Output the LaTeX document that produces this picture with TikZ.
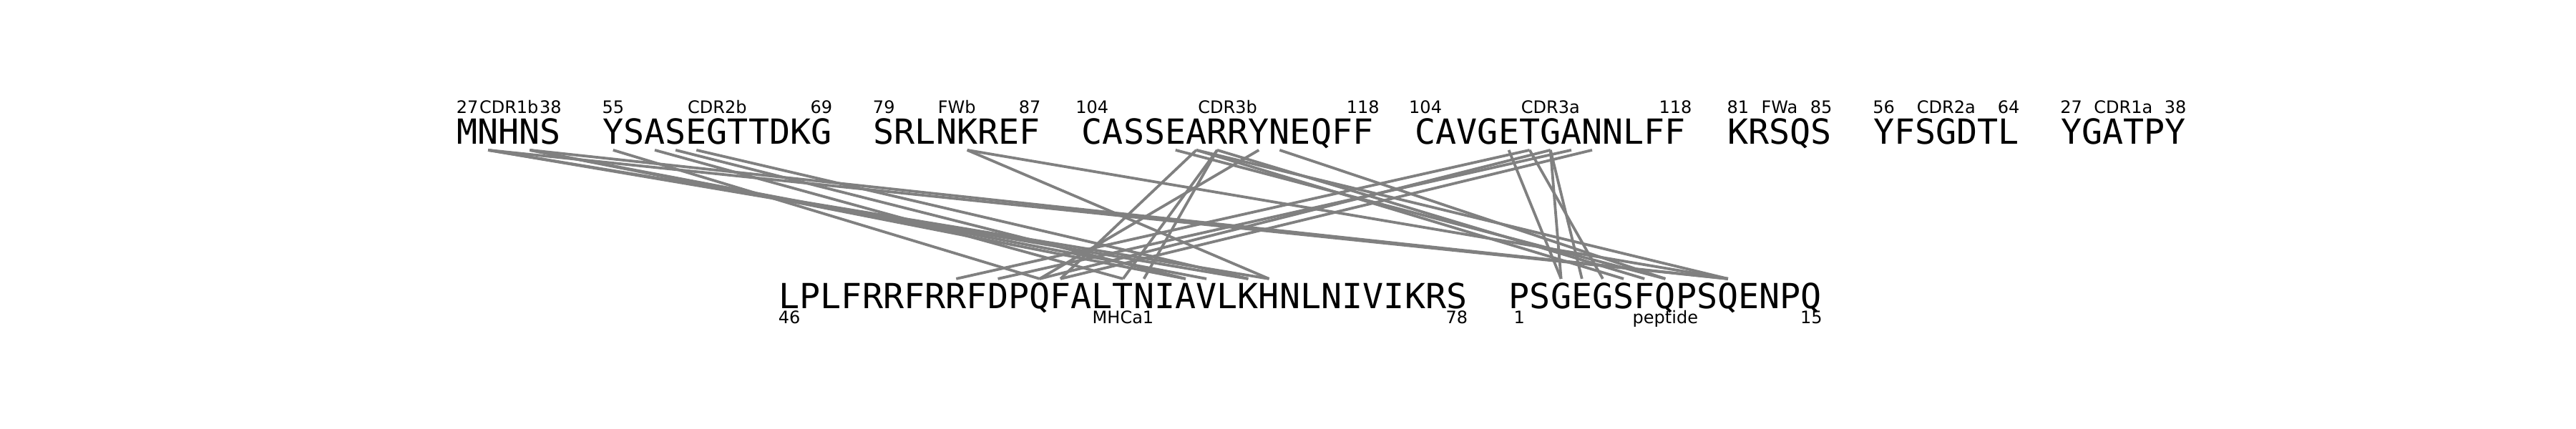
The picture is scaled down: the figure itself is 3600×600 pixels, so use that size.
\documentclass[tikz,border=0pt]{standalone}
\usepackage{fontspec}
\setmainfont{DejaVu Sans}
\newfontfamily\seqfont{DejaVu Sans Mono}
\definecolor{linkgray}{HTML}{808080}
\tikzset{
  res/.style={inner sep=0pt, outer sep=0pt, anchor=base, font=\seqfont\fontsize{12.08pt}{14pt}\selectfont},
  tres/.style={res, text height=9.25pt, text depth=2.1pt},
  bres/.style={res, text height=10.4pt, text depth=0pt},
  lab/.style={inner sep=0pt, anchor=base, font=\fontsize{6pt}{7pt}\selectfont},
  link/.style={draw=linkgray, line width=0.95pt},
}
\newcommand{\topseg}[2]{%
  \foreach \c [count=\i from #1] in {#2} {\node[tres] (t\i) at ({638.5+(\i+0.5)*29.11},201.5) {\c};}}
\newcommand{\botseg}[2]{%
  \foreach \c [count=\i from #1] in {#2} {\node[bres] (b\i) at ({1088.5+(\i+0.5)*29.15},431.5) {\c};}}
\newcommand{\seglabels}[9]{%
  \node[lab] (#1a) at ({#2+(#5+0.5)*#3},#4) {#7};
  \node[lab] (#1b) at ({#2+(#5+#6/2)*#3},#4) {#8};
  \node[lab] (#1c) at ({#2+(#5+#6-0.5)*#3},#4) {#9};}
\begin{document}
\begin{tikzpicture}[x=0.25pt,y=-0.25pt]
\fill[white] (0,0) rectangle (3600,600);
\useasboundingbox (0,0) rectangle (3600,600);
% top row (TCR)
\topseg{0}{M,N,H,N,S}
\topseg{7}{Y,S,A,S,E,G,T,T,D,K,G}
\topseg{20}{S,R,L,N,K,R,E,F}
\topseg{30}{C,A,S,S,E,A,R,R,Y,N,E,Q,F,F}
\topseg{46}{C,A,V,G,E,T,G,A,N,N,L,F,F}
\topseg{61}{K,R,S,Q,S}
\topseg{68}{Y,F,S,G,D,T,L}
\topseg{77}{Y,G,A,T,P,Y}
\seglabels{cdrib}{638.5}{29.11}{158}{0}{5}{27}{CDR1b}{38}
\seglabels{cdriib}{638.5}{29.11}{158}{7}{11}{55}{CDR2b}{69}
\seglabels{fwb}{638.5}{29.11}{158}{20}{8}{79}{FWb}{87}
\seglabels{cdriiib}{638.5}{29.11}{158}{30}{14}{104}{CDR3b}{118}
\seglabels{cdriiia}{638.5}{29.11}{158}{46}{13}{104}{CDR3a}{118}
\seglabels{fwa}{638.5}{29.11}{158}{61}{5}{81}{FWa}{85}
\seglabels{cdriia}{638.5}{29.11}{158}{68}{7}{56}{CDR2a}{64}
\seglabels{cdria}{638.5}{29.11}{158}{77}{6}{27}{CDR1a}{38}
% bottom row (MHC + peptide)
\botseg{0}{L,P,L,F,R,R,F,R,R,F,D,P,Q,F,A,L,T,N,I,A,V,L,K,H,N,L,N,I,V,I,K,R,S}
\botseg{35}{P,S,G,E,G,S,F,Q,P,S,Q,E,N,P,Q}
\seglabels{mhc}{1088.5}{29.15}{452}{0}{33}{46}{MHCa1}{78}
\seglabels{pep}{1088.5}{29.15}{452}{35}{15}{1}{peptide}{15}
% contacts
\foreach \a/\b in {1/45,1/23,1/22,3/45,3/20,3/19,
                   7/12,9/16,10/19,11/22,
                   24/23,24/45,
                   34/42,35/13,35/45,35/40,36/16,36/17,36/41,38/12,39/42,
                   50/37,52/37,52/38,51/39,51/8,53/10,52/12,54/13}
  \draw[link] (t\a.south) -- (b\b.north);
\end{tikzpicture}
\end{document}
